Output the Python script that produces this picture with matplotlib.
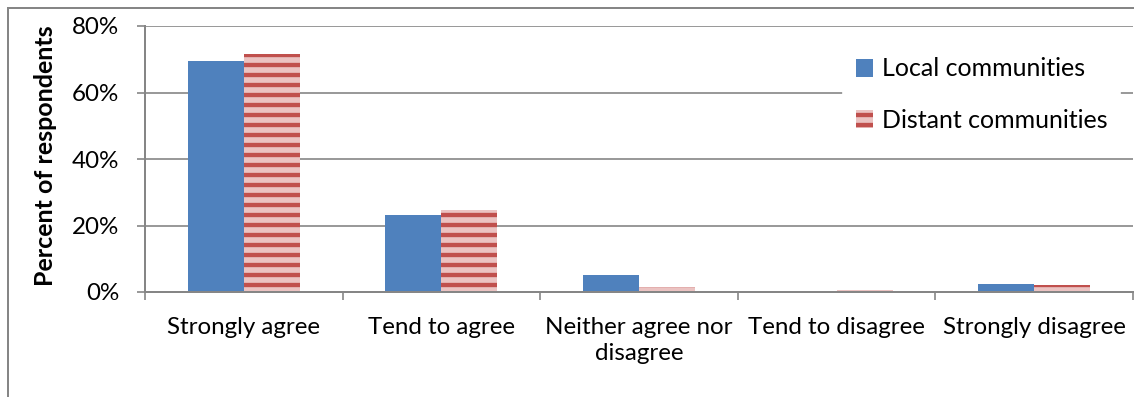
import numpy as np
import matplotlib
matplotlib.use("Agg")
import matplotlib.pyplot as plt
from matplotlib.lines import Line2D
from matplotlib.ticker import PercentFormatter

categories = ["Strongly agree", "Tend to agree", "Neither agree nor\ndisagree",
              "Tend to disagree", "Strongly disagree"]
local = [69.5, 23.3, 5.0, 0.0, 2.4]
distant = [71.6, 24.6, 1.4, 0.7, 2.0]

plt.rcParams['font.family'] = ['Lato', 'DejaVu Sans']
plt.rcParams['hatch.linewidth'] = 2.6

W, H, DPI = 1134, 397, 120
fig = plt.figure(figsize=(W / DPI, H / DPI), dpi=DPI)
ax = fig.add_axes([145 / W, 1 - 292 / H, 988 / W, 266 / H])

grey = '#868686'
fs = 14.5
x = np.arange(len(categories))
bw = 0.283
ax.bar(x - bw / 2, local, bw, color='#4f81bd', zorder=3, label='Local communities')
ax.bar(x + bw / 2, distant, bw, facecolor='#ebc3c2', hatch='--', edgecolor='#c0504d',
       linewidth=0, zorder=3, label='Distant communities')

ax.set_xlim(-0.5, len(categories) - 0.5)
ax.set_ylim(0, 80)
ax.set_yticks([0, 20, 40, 60, 80])
ax.yaxis.set_major_formatter(PercentFormatter(decimals=0))
ax.set_xticks(x)
ax.set_xticklabels(categories, fontsize=fs, linespacing=1.3)
ax.set_xticks(np.arange(len(categories) + 1) - 0.5, minor=True)
ax.tick_params(axis='x', which='major', length=0, pad=15)
ax.tick_params(axis='x', which='minor', length=5, color=grey, width=1)
ax.tick_params(axis='y', length=5, color=grey, width=1, labelsize=fs, pad=10.5)
ax.grid(axis='y', color=grey, linewidth=1, zorder=0)

for s in ['top', 'right']:
    ax.spines[s].set_visible(False)
for s in ['left', 'bottom']:
    ax.spines[s].set_color(grey)
    ax.spines[s].set_linewidth(1.2)
    ax.spines[s].set_zorder(4)

ax.set_ylabel('Percent of respondents', fontsize=15, fontweight='bold')
ax.yaxis.set_label_coords(-88 / 988, 136 / 266)

leg = ax.legend(loc='upper left', bbox_to_anchor=(698 / 988, 1 - 19 / 266),
                frameon=True, fontsize=15, handlelength=0.7, handleheight=0.7,
                handletextpad=0.35, labelspacing=1.12, borderpad=0.5, borderaxespad=0)
leg.get_frame().set_edgecolor('white')
leg.get_frame().set_facecolor('white')
leg.get_frame().set_alpha(1)
leg.set_zorder(5)

# outer chart border (left and top edges)
fx, fy = 7.5 / W, 1 - 7.5 / H
fig.add_artist(Line2D([fx, fx], [0, fy], transform=fig.transFigure, color=grey, lw=1.2))
fig.add_artist(Line2D([fx, 1], [fy, fy], transform=fig.transFigure, color=grey, lw=1.2))

fig.savefig('out.png', dpi=DPI)
